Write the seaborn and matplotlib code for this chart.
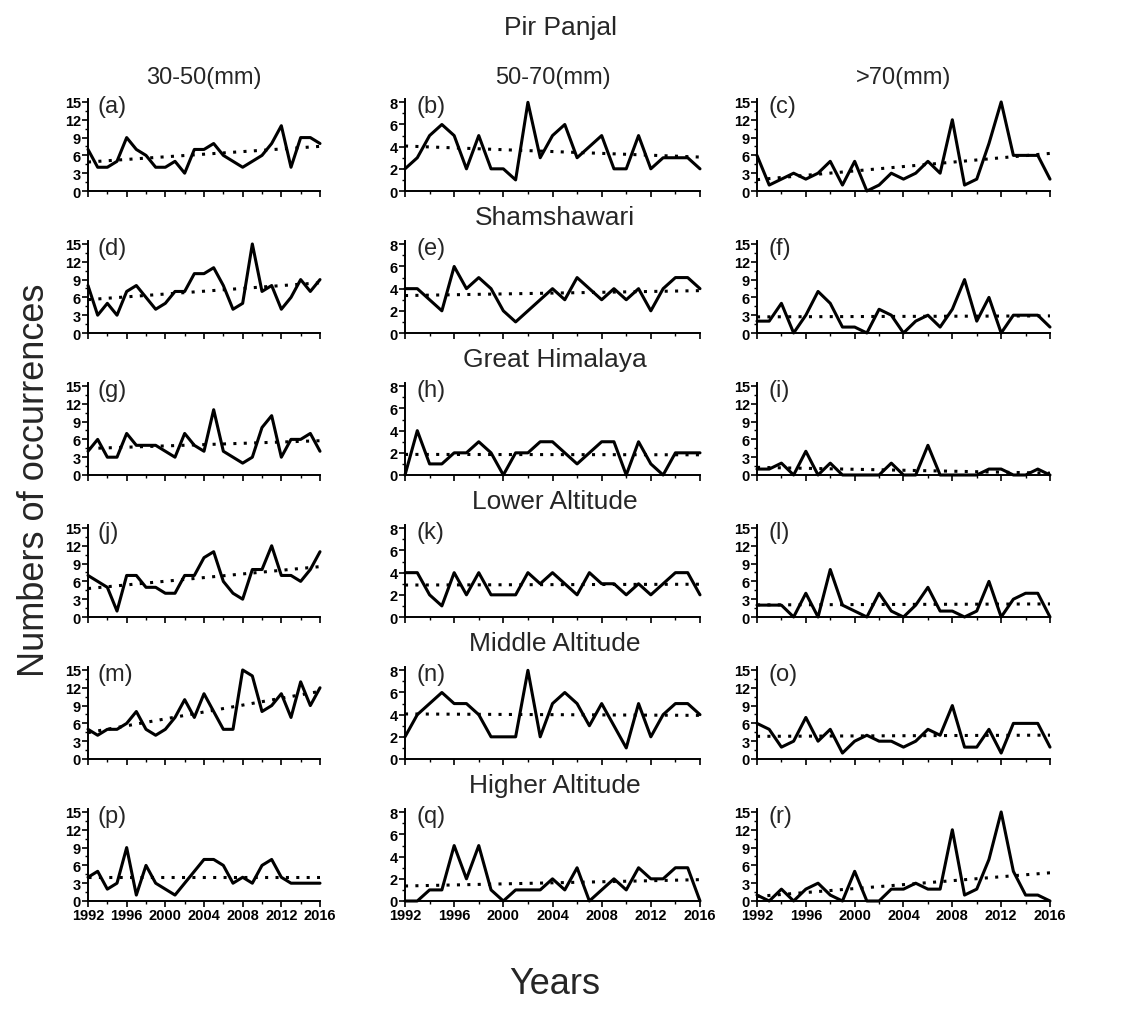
import numpy as np
import pandas as pd
import matplotlib
matplotlib.use("Agg")
import matplotlib.pyplot as plt
import seaborn as sns
from matplotlib.ticker import MultipleLocator

years = list(range(1992, 2017))

# Pir Panjal
a = [7, 4, 4, 5, 9, 7, 6, 4, 4, 5, 3, 7, 7, 8, 6, 5, 4, 5, 6, 8, 11, 4, 9, 9, 8]
b = [2, 3, 5, 6, 5, 2, 5, 2, 2, 1, 8, 3, 5, 6, 3, 4, 5, 2, 2, 5, 2, 3, 3, 3, 2]
c = [6, 1, 2, 3, 2, 3, 5, 1, 5, 0, 1, 3, 2, 3, 5, 3, 12, 1, 2, 8, 15, 6, 6, 6, 2]
# Shamshawari
d = [8, 3, 5, 3, 7, 8, 6, 4, 5, 7, 7, 10, 10, 11, 8, 4, 5, 15, 7, 8, 4, 6, 9, 7, 9]
e = [4, 4, 3, 2, 6, 4, 5, 4, 2, 1, 2, 3, 4, 3, 5, 4, 3, 4, 3, 4, 2, 4, 5, 5, 4]
f = [2, 2, 5, 0, 3, 7, 5, 1, 1, 0, 4, 3, 0, 2, 3, 1, 4, 9, 2, 6, 0, 3, 3, 3, 1]
# Great Himalaya
g = [4, 6, 3, 3, 7, 5, 5, 5, 4, 3, 7, 5, 4, 11, 4, 3, 2, 3, 8, 10, 3, 6, 6, 7, 4]
h = [0, 4, 1, 1, 2, 2, 3, 2, 0, 2, 2, 3, 3, 2, 1, 2, 3, 3, 0, 3, 1, 0, 2, 2, 2]
i_ = [1, 1, 2, 0, 4, 0, 2, 0, 0, 0, 0, 2, 0, 0, 5, 0, 0, 0, 0, 1, 1, 0, 0, 1, 0]
# Lower Altitude
j = [7, 6, 5, 1, 7, 7, 5, 5, 4, 4, 7, 7, 10, 11, 6, 4, 3, 8, 8, 12, 7, 7, 6, 8, 11]
k = [4, 4, 2, 1, 4, 2, 4, 2, 2, 2, 4, 3, 4, 3, 2, 4, 3, 3, 2, 3, 2, 3, 4, 4, 2]
l = [2, 2, 2, 0, 4, 0, 8, 2, 1, 0, 4, 1, 0, 2, 5, 1, 1, 0, 1, 6, 0, 3, 4, 4, 0]
# Middle Altitude
m = [5, 4, 5, 5, 6, 8, 5, 4, 5, 7, 10, 7, 11, 8, 5, 5, 15, 14, 8, 9, 11, 7, 13, 9, 12]
n = [2, 4, 5, 6, 5, 5, 4, 2, 2, 2, 8, 2, 5, 6, 5, 3, 5, 3, 1, 5, 2, 4, 5, 5, 4]
o = [6, 5, 2, 3, 7, 3, 5, 1, 3, 4, 3, 3, 2, 3, 5, 4, 9, 2, 2, 5, 1, 6, 6, 6, 2]
# Higher Altitude
p = [4, 5, 2, 3, 9, 1, 6, 3, 2, 1, 3, 5, 7, 7, 6, 3, 4, 3, 6, 7, 4, 3, 3, 3, 3]
q = [0, 0, 1, 1, 5, 2, 5, 1, 0, 1, 1, 1, 2, 1, 3, 0, 1, 2, 1, 3, 2, 2, 3, 3, 0]
r = [1, 0, 2, 0, 2, 3, 1, 0, 5, 0, 0, 2, 2, 3, 2, 2, 12, 1, 2, 7, 15, 5, 1, 1, 0]

panels = [a, b, c, d, e, f, g, h, i_, j, k, l, m, n, o, p, q, r]
panel_labels = ["(a)", "(b)", "(c)", "(d)", "(e)", "(f)", "(g)", "(h)", "(i)",
                "(j)", "(k)", "(l)", "(m)", "(n)", "(o)", "(p)", "(q)", "(r)"]
row_titles = ["Pir Panjal", "Shamshawari", "Great Himalaya", "Lower Altitude",
              "Middle Altitude", "Higher Altitude"]
col_titles = ["30-50(mm)", "50-70(mm)", ">70(mm)"]
year_ticks = [1992, 1996, 2000, 2004, 2008, 2012, 2016]

sns.set_theme(style="ticks")
plt.rcParams["font.family"] = ["Liberation Sans", "DejaVu Sans"]

W, H = 1124, 1012
fig = plt.figure(figsize=(W / 100, H / 100), dpi=100)

col_x = [(88, 320), (405, 700), (757, 1050)]
row_top = [100 + 142 * rr for rr in range(6)]
ax_h = 92
tick_family = ["Liberation Sans Narrow", "Liberation Sans", "DejaVu Sans"]

for idx, vals in enumerate(panels):
    rr, cc = divmod(idx, 3)
    x0, x1 = col_x[cc]
    top = row_top[rr]
    ax = fig.add_axes([x0 / W, 1 - (top + ax_h) / H, (x1 - x0) / W, ax_h / H])
    df = pd.DataFrame({"year": years, "n": vals})
    sns.lineplot(data=df, x="year", y="n", ax=ax, color="black", lw=2.2, clip_on=False)
    sns.regplot(data=df, x="year", y="n", ax=ax, scatter=False, ci=None, truncate=True,
                line_kws=dict(color="black", lw=2.2, linestyle=(0, (1, 2.4))))
    ax.set_xlim(1992, 2016)
    if cc == 1:
        ax.set_ylim(0, 8.3)
        ax.yaxis.set_major_locator(MultipleLocator(2))
        ax.yaxis.set_minor_locator(MultipleLocator(1))
    else:
        ax.set_ylim(0, 15.5)
        ax.yaxis.set_major_locator(MultipleLocator(3))
        ax.yaxis.set_minor_locator(MultipleLocator(1.5))
    ax.set_xticks(year_ticks)
    ax.xaxis.set_minor_locator(MultipleLocator(2))
    ax.set_xlabel("")
    ax.set_ylabel("")
    sns.despine(ax=ax)
    for sp in ["left", "bottom"]:
        ax.spines[sp].set_linewidth(1.4)
        ax.spines[sp].set_color("black")
    ax.tick_params(which="major", direction="out", length=4, width=1.2, pad=1, colors="black")
    ax.tick_params(which="minor", direction="out", length=2.5, width=1.0, colors="black")
    if rr < 5:
        ax.tick_params(labelbottom=False)
    for lab in ax.get_xticklabels() + ax.get_yticklabels():
        lab.set_fontfamily(tick_family)
        lab.set_fontweight("bold")
        lab.set_fontsize(10.5)
    ax.text(0.04, 1.04, panel_labels[idx], transform=ax.transAxes, ha="left", va="top",
            fontsize=17)

# titles
fig.text(560 / W, 1 - 28 / H, row_titles[0], ha="center", va="center", fontsize=19)
for cc, t in enumerate(col_titles):
    cx = (col_x[cc][0] + col_x[cc][1]) / 2
    fig.text(cx / W, 1 - 78 / H, t, ha="center", va="center", fontsize=17)
for rr in range(1, 6):
    fig.text(555 / W, 1 - (row_top[rr] - 24) / H, row_titles[rr], ha="center",
             va="center", fontsize=19)

fig.text(35 / W, 1 - 480 / H, "Numbers of occurrences", rotation=90, ha="center",
         va="center", fontsize=26)
fig.text(555 / W, 1 - 985 / H, "Years", ha="center", va="center", fontsize=26)

fig.savefig("out.png", dpi=100, facecolor="white")
